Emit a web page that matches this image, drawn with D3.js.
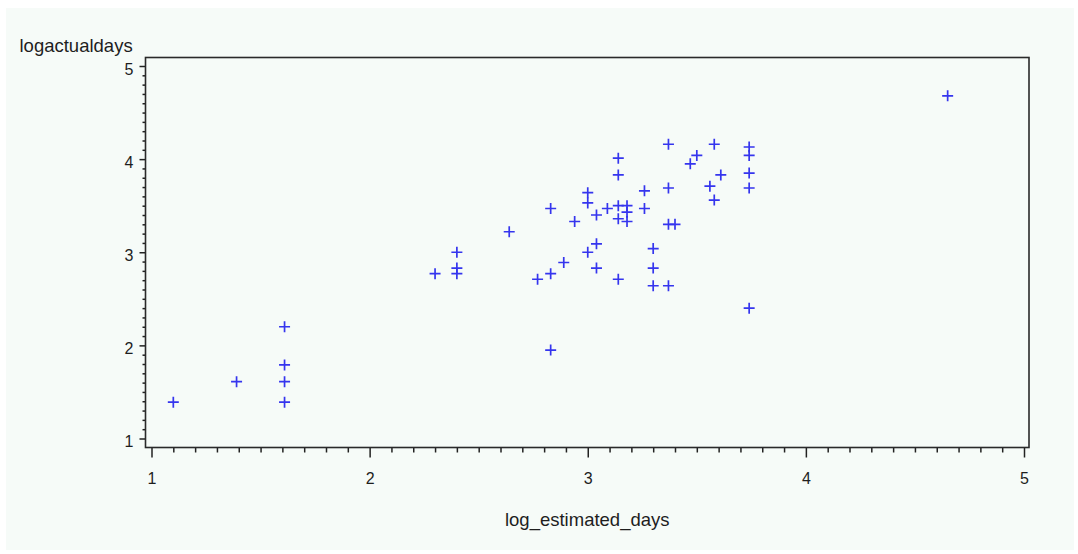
<!DOCTYPE html>
<html>
<head>
<meta charset="utf-8">
<script src="https://cdn.jsdelivr.net/npm/d3@7"></script>
<style>
  html, body { margin: 0; padding: 0; background: #ffffff; }
  svg { display: block; }
  text { font-family: "Liberation Sans", Arial, Helvetica, sans-serif; fill: #1e1e1e; }
</style>
</head>
<body>
<svg id="chart" width="1078" height="554"></svg>
<script>
// Estimated vs actual duration, both on a natural-log scale
const logEstimatedDays = [
  1.10, 1.39, 1.61, 1.61, 1.61, 1.61,
  2.30, 2.40, 2.40, 2.40, 2.64, 2.77,
  2.83, 2.83, 2.83, 2.89, 2.94,
  3.00, 3.00, 3.00, 3.04, 3.04, 3.04, 3.09,
  3.14, 3.14, 3.14, 3.14, 3.14,
  3.18, 3.18, 3.18,
  3.26, 3.26, 3.30, 3.30, 3.30,
  3.37, 3.37, 3.37, 3.37, 3.40,
  3.47, 3.50, 3.56, 3.58, 3.58, 3.61,
  3.74, 3.74, 3.74, 3.74, 3.74,
  4.65
];
const logActualDays = [
  1.39, 1.61, 2.20, 1.79, 1.61, 1.39,
  2.77, 3.00, 2.83, 2.77, 3.22, 2.71,
  2.77, 3.47, 1.95, 2.89, 3.33,
  3.64, 3.53, 3.00, 3.09, 3.40, 2.83, 3.47,
  4.01, 3.83, 3.50, 3.36, 2.71,
  3.50, 3.43, 3.33,
  3.66, 3.47, 3.04, 2.83, 2.64,
  4.16, 3.69, 3.30, 2.64, 3.30,
  3.95, 4.04, 3.71, 4.16, 3.56, 3.83,
  4.13, 4.04, 3.85, 3.69, 2.40,
  4.68
];
const xTickLabels = [1, 2, 3, 4, 5];
const yTickLabels = [1, 2, 3, 4, 5];
const xTitle = "log_estimated_days";
const yTitle = "logactualdays";

const svg = d3.select("#chart");
const bg = "#f6fbf8";

// page panel
svg.append("rect")
  .attr("x", 6).attr("y", 8)
  .attr("width", 1068).attr("height", 542)
  .attr("fill", bg);

const frame = { left: 145.5, top: 57.5, right: 1029, bottom: 447.5 };

const x = d3.scaleLinear().domain([1, 5]).range([151.5, 1024]);
const y = d3.scaleLinear().domain([1, 5]).range([438.5, 66]);

const minorX = d3.range(10, 51).map(v => v / 10).filter(v => !xTickLabels.includes(v));
const minorY = d3.range(10, 51).map(v => v / 10).filter(v => !yTickLabels.includes(v));

const axisColor = "#222";

// x axis: minor then major ticks
const gxMinor = svg.append("g")
  .attr("transform", `translate(0,${frame.bottom})`)
  .call(d3.axisBottom(x).tickValues(minorX).tickSize(5).tickFormat(""));
const gx = svg.append("g")
  .attr("transform", `translate(0,${frame.bottom})`)
  .call(d3.axisBottom(x).tickValues(xTickLabels).tickSize(10).tickFormat(d3.format("d")));
gx.selectAll("text")
  .attr("y", 36).attr("dy", null)
  .style("font-size", "16px");

// y axis: minor then major ticks
const gyMinor = svg.append("g")
  .attr("transform", `translate(${frame.left},0)`)
  .call(d3.axisLeft(y).tickValues(minorY).tickSize(3).tickFormat(""));
const gy = svg.append("g")
  .attr("transform", `translate(${frame.left},0)`)
  .call(d3.axisLeft(y).tickValues(yTickLabels).tickSize(6).tickFormat(d3.format("d")));
gy.selectAll("text")
  .attr("x", -12).attr("dy", "0.5em")
  .style("font-size", "16px");

[gxMinor, gx, gyMinor, gy].forEach(g => {
  g.select(".domain").remove();
  g.selectAll("line").attr("stroke", axisColor).attr("stroke-width", 1.5);
  g.selectAll("text").attr("fill", "#1e1e1e").style("font-family", "'Liberation Sans', Arial, sans-serif");
});

// plot frame
svg.append("rect")
  .attr("x", frame.left).attr("y", frame.top)
  .attr("width", frame.right - frame.left)
  .attr("height", frame.bottom - frame.top)
  .attr("fill", "none")
  .attr("stroke", "#2a2a2a")
  .attr("stroke-width", 1.6);

// plus markers
const pts = logEstimatedDays.map((v, i) => ({ ex: v, ac: logActualDays[i] }));
svg.append("g")
  .selectAll("path")
  .data(pts)
  .join("path")
  .attr("transform", d => `translate(${x(d.ex)},${y(d.ac)})`)
  .attr("d", "M-5.5,0H5.5M0,-5.5V5.5")
  .attr("stroke", "#3535ee")
  .attr("stroke-width", 1.7)
  .attr("fill", "none");

// axis titles
svg.append("text")
  .attr("x", 19.5).attr("y", 51.5)
  .style("font-size", "18.5px")
  .text(yTitle);

svg.append("text")
  .attr("x", (frame.left + frame.right) / 2).attr("y", 525.5)
  .attr("text-anchor", "middle")
  .style("font-size", "18.5px")
  .text(xTitle);
</script>
</body>
</html>
